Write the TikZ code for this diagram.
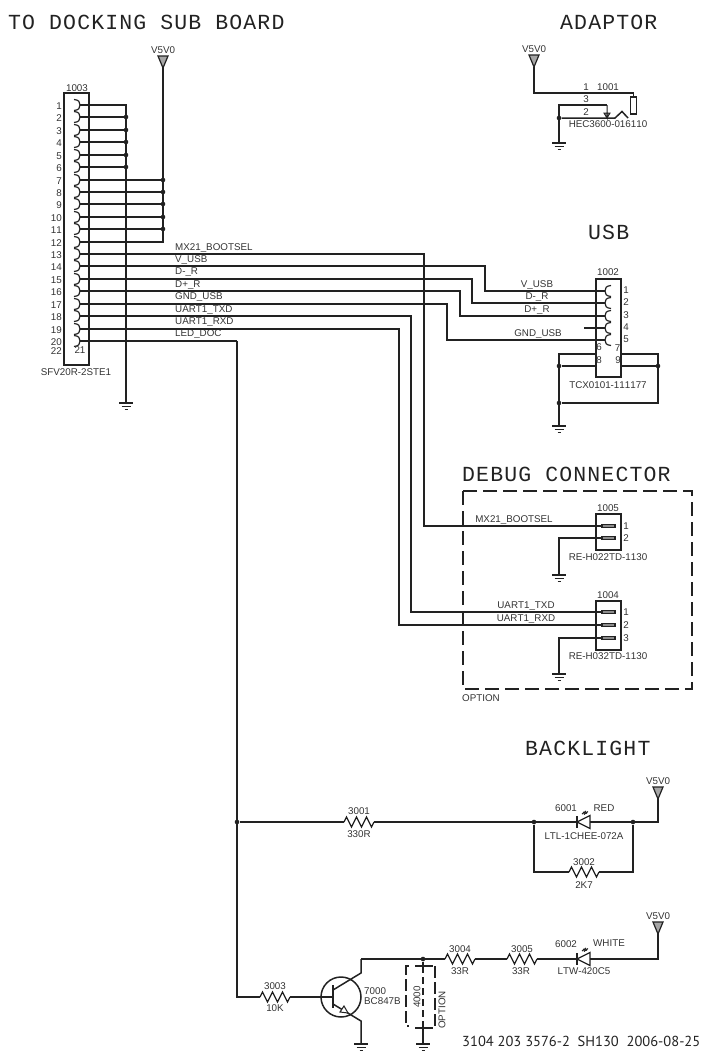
\documentclass[tikz,border=0pt]{standalone}
\usepackage{fontspec}
\setmainfont[Kerning=Off]{Liberation Sans}
\newfontfamily\titlefont[LetterSpace=5.3]{Liberation Mono}
\newfontfamily\footfont{PT Sans}
\usetikzlibrary{arrows.meta}
\definecolor{ink}{HTML}{222222}
\definecolor{txt}{HTML}{333333}
\tikzset{
  wire/.style={draw=ink, line width=1.5pt},
  thinwire/.style={draw=ink, line width=1.2pt},
  lbl/.style={text=txt, inner sep=0pt, font=\fontsize{9.8}{10}\selectfont},
  heading/.style={text=ink, inner sep=0pt, anchor=west, font=\titlefont\fontsize{21.5}{22}\selectfont},
  dot/.style={circle, fill=ink, inner sep=0pt, minimum size=4.6pt},
  gnd/.pic={
    \draw[ink, line width=1.4pt] (-7,0) -- (7,0);
    \draw[ink, line width=1.2pt] (-4.5,3.4) -- (4.5,3.4);
    \draw[ink, line width=1.2pt] (-1.5,6.8) -- (1.5,6.8);
  },
  vsup/.pic={
    \draw[ink, fill=black!35, line width=1.2pt] (-5,-12) -- (5,-12) -- (0,0) -- cycle;
    \node[lbl] at (0,-18) {V5V0};
  },
  res/.pic={
    \draw[ink, line width=1.3pt] (0,0) -- (2.5,-5) -- (7.5,5) -- (12.5,-5) -- (17.5,5) -- (22.5,-5) -- (27.5,5) -- (30,0);
  },
  led/.pic={
    \draw[ink, line width=1.5pt] (0,-6) -- (0,6);
    \draw[ink, line width=1.3pt] (0,0) -- (13,-6.5) -- (13,6.5) -- cycle;
    \draw[ink, line width=1pt] (5,-8) -- (9,-11) (7,-7.5) -- (11,-10.5) (6,-10) -- (8,-9) (8,-9.5) -- (10,-8.5);
  },
  hook/.pic={
    \draw[ink, line width=1.2pt] (-6,-5.5) .. controls (-1,-5) and (0,-3) .. (0,0) .. controls (0,3) and (-1,5) .. (-6,5.5);
  },
  bar/.pic={
    \draw[ink, fill=black!45, line width=1.3pt] (0,-1.6) rectangle (13,1.6);
  }
}
\begin{document}
\begin{tikzpicture}[x=1pt, y=-1pt]
  \useasboundingbox (0,0) rectangle (704,1055);
  % titles
  \node[heading] (tdock) at (8,22) {TO DOCKING SUB BOARD};
  \node[heading] (tadapt) at (560,22) {ADAPTOR};
  \node[heading] (tusb) at (588,232) {USB};
  \node[heading] (tdebug) at (462,474) {DEBUG CONNECTOR};
  \node[heading] (tback) at (525,748) {BACKLIGHT};

  % connector 1003
  \draw[wire] (64,93) rectangle (89,365);
  \node[lbl] (n1003) at (77,88) {1003};
  \node[lbl] (t1003) at (76,372) {SFV20R-2STE1};
  \foreach \n in {1,...,20} {
    \pgfmathsetmacro\ypos{round(105+12.42*(\n-1))}
    \coordinate (a\n) at (80,\ypos);
    \pic at (a\n) {hook};
    \node[lbl, anchor=east] (an\n) at (62,\ypos+1.5) {\n};
  }
  \node[lbl, anchor=east] (an22) at (62,351) {22};
  \node[lbl] (an21) at (80,350) {21};

  % ground bus
  \coordinate (gbus) at (126,105);
  \coordinate (gbot) at (126,403);
  \draw[thinwire] (a1) -- (gbus) -- (gbot);
  \pic at (gbot) {gnd};
  \foreach \n in {2,...,6} {
    \node[dot] (g\n) at (a\n -| gbus) {};
    \draw[thinwire] (a\n) -- (g\n);
  }

  % V5V0 bus
  \coordinate (vtop) at (163,68);
  \pic at (vtop) {vsup};
  \coordinate (vcor) at (a12 -| vtop);
  \draw[wire] (vtop) -- (vcor) -- (a12);
  \foreach \n in {7,...,11} {
    \node[dot] (v\n) at (a\n -| vtop) {};
    \draw[wire] (a\n) -- (v\n);
  }

  % net labels at 1003
  \foreach \n/\t/\ypos in {13/MX21\_BOOTSEL/248, 14/V\_USB/260, 15/D-\_R/272.5, 16/D+\_R/285,
      17/GND\_USB/297, 18/UART1\_TXD/310, 19/UART1\_RXD/322, 20/LED\_DOC/334}
    \node[lbl, anchor=west] (net\n) at (175,\ypos) {\t};

  % adaptor 1001
  \coordinate (adv) at (534,67);
  \pic at (adv) {vsup};
  \node[draw=ink, line width=1.3pt, minimum width=5.5pt, minimum height=17pt, inner sep=0pt] (jack) at (633.5,105.5) {};
  \coordinate (adc) at (jack.north |- 0,93);
  \draw[wire] (adv) |- (adc) -- (jack.north);
  \node[lbl] (ad1) at (586,87) {1};
  \node[lbl] (n1001) at (608,87) {1001};
  \node[lbl] (ad3) at (586,99.5) {3};
  \node[lbl] (ad2) at (586,112) {2};
  \node[lbl] (t1001) at (608,124.5) {HEC3600-016110};
  \node[dot] (adj) at (559,118) {};
  \coordinate (adt) at (559,105);
  \coordinate (adg) at (559,143);
  \coordinate (ada) at (607,105);
  \coordinate (adb) at (607,118);
  \draw[wire] (adg) -- (adt) -- (ada);
  \draw[ink, fill=black!40, line width=1pt] (ada) -- (ada |- adb) -- ++(-3,-5) -- ++(6,0) -- ++(-3,5);
  \draw[wire] (adj) -- (615,118) -- (622,111.5) -- (628,118);
  \pic at (adg) {gnd};

  % usb 1002
  \draw[wire] (596,279) rectangle (621,377);
  \node[lbl] (n1002) at (608,272) {1002};
  \node[lbl] (t1002) at (608,385) {TCX0101-111177};
  \foreach \n/\ypos in {1/291, 2/303, 3/316, 4/328, 5/340} {
    \coordinate (u\n) at (605,\ypos);
    \pic[xscale=-1] at (u\n) {hook};
    \node[lbl] (un\n) at (626,\ypos-1) {\n};
  }
  \coordinate (ustub) at (584,328);
  \draw[thinwire] (ustub) -- (u4);
  \node[lbl] (un6) at (599,347) {6};
  \node[lbl] (un7) at (617.5,348) {7};
  \node[lbl] (un8) at (599,360) {8};
  \node[lbl] (un9) at (618,360) {9};
  \foreach \x/\ypos/\t/\nm in {537/285/V\_USB/a, 537/297.5/D-\_R/b, 537/310/D+\_R/c, 538/334/GND\_USB/d}
    \node[lbl] (ul\nm) at (\x,\ypos) {\t};
  \coordinate (sl) at (559,354);
  \coordinate (sr) at (658,354);
  \node[dot] (sl8) at (559,366) {};
  \node[dot] (sr9) at (658,366) {};
  \node[dot] (sb) at (559,403) {};
  \coordinate (sbr) at (658,403);
  \coordinate (sg) at (559,426);
  \draw[wire] (596,354) -- (sl) -- (sg);
  \draw[wire] (621,354) -- (sr) -- (sbr) -- (sb);
  \draw[wire] (sl8) -- (596,366);
  \draw[wire] (sr9) -- (621,366);
  \pic at (sg) {gnd};

  % debug box
  \draw[ink, line width=1.6pt, dash pattern=on 14pt off 6pt] (463,491) rectangle (692,689);
  \node[lbl, anchor=west] (topt) at (462,698) {OPTION};

  % debug 1005
  \draw[wire] (596,514) rectangle (621,550);
  \node[lbl] (n1005) at (608,508) {1005};
  \node[lbl] (t1005) at (608,557) {RE-H022TD-1130};
  \foreach \n/\ypos in {1/526, 2/538} {
    \coordinate (d\n) at (602,\ypos);
    \pic at (d\n) {bar};
    \node[lbl] (dn\n) at (626,\ypos) {\n};
  }
  \node[lbl] (dl1) at (514,520) {MX21\_BOOTSEL};
  \coordinate (dg) at (559,575);
  \draw[thinwire] (d2) -| (dg);
  \pic at (dg) {gnd};

  % debug 1004
  \draw[wire] (596,601) rectangle (621,650);
  \node[lbl] (n1004) at (608,595) {1004};
  \node[lbl] (t1004) at (608,656) {RE-H032TD-1130};
  \foreach \n/\ypos in {1/612, 2/625, 3/638} {
    \coordinate (e\n) at (602,\ypos);
    \pic at (e\n) {bar};
    \node[lbl] (en\n) at (626,\ypos) {\n};
  }
  \node[lbl] (el1) at (526,606.5) {UART1\_TXD};
  \node[lbl] (el2) at (526,619) {UART1\_RXD};
  \coordinate (eg) at (559,674);
  \draw[thinwire] (e3) -| (eg);
  \pic at (eg) {gnd};

  % long nets from 1003
  \foreach \from/\x/\to in {a13/424/d1, a14/485/u1, a15/472/u2, a16/460/u3, a17/447/u5, a18/411/e1, a19/399/e2} {
    \coordinate (turn\from) at (\x,0);
    \draw[wire] (\from) -| (turn\from |- \to) -- (\to);
  }

  % backlight 6001
  \coordinate (bv) at (658,799);
  \pic at (bv) {vsup};
  \coordinate (bc) at (658,822);
  \coordinate (ledtop) at (237,341);
  \draw[wire] (a20) -- (ledtop);
  \node[dot] (bj) at (237,822) {};
  \node[dot] (bl) at (534,822) {};
  \node[dot] (br) at (633,822) {};
  \coordinate (r1l) at (344,822);
  \coordinate (r1r) at (374,822);
  \pic at (r1l) {res};
  \node[lbl] (n3001) at (359,811) {3001};
  \node[lbl] (v3001) at (359,834) {330R};
  \coordinate (d1a) at (577,822);
  \coordinate (d1k) at (590,822);
  \pic at (d1a) {led};
  \node[lbl] (n6001) at (566,808) {6001};
  \node[lbl] (c6001) at (604,808) {RED};
  \node[lbl] (t6001) at (584,836) {LTL-1CHEE-072A};
  \draw[wire] (bj) -- (r1l) (r1r) -- (d1a) (d1k) -- (bc) -- (bv);
  \coordinate (r2l) at (569,872);
  \coordinate (r2r) at (599,872);
  \pic at (r2l) {res};
  \node[lbl] (n3002) at (584,862) {3002};
  \node[lbl] (v3002) at (584,885) {2K7};
  \draw[wire] (bl) |- (r2l) (r2r) -| (br);

  % backlight 6002
  \coordinate (wv) at (658,934);
  \pic at (wv) {vsup};
  \coordinate (wc) at (658,959);
  \coordinate (d2a) at (577,959);
  \coordinate (d2k) at (590,959);
  \pic at (d2a) {led};
  \node[lbl] (n6002) at (566,944) {6002};
  \node[lbl] (c6002) at (609,943.5) {WHITE};
  \node[lbl] (t6002) at (584,971.5) {LTW-420C5};
  \coordinate (r4l) at (445,959);
  \coordinate (r4r) at (475,959);
  \pic at (r4l) {res};
  \node[lbl] (n3004) at (460,949) {3004};
  \node[lbl] (v3004) at (460,971) {33R};
  \coordinate (r5l) at (507,959);
  \coordinate (r5r) at (537,959);
  \pic at (r5l) {res};
  \node[lbl] (n3005) at (522,949) {3005};
  \node[lbl] (v3005) at (521,971) {33R};
  \draw[wire] (r4r) -- (r5l) (r5r) -- (d2a) (d2k) -- (wc) -- (wv);

  % transistor 7000
  \node[draw=ink, circle, line width=1.5pt, minimum size=40pt, inner sep=0pt] (q) at (341,997) {};
  \coordinate (qb) at (333,997);
  \coordinate (qc) at (361,959);
  \coordinate (qe) at (361,1021);
  \coordinate (qg) at (361,1044);
  \draw[ink, line width=1.8pt] (333,985) -- (333,1008);
  \draw[wire] (333,990) -- (361,973) -- (qc);
  \draw[wire] (333,1004) -- (qe) -- (qg);
  \draw[ink, fill=white, line width=1pt] (348,1013) -- (340,1012) -- (344,1006) -- cycle;
  \node[lbl, anchor=west] (n7000) at (364,991) {7000};
  \node[lbl, anchor=west] (t7000) at (364,1001.5) {BC847B};
  \pic at (qg) {gnd};

  % resistor 3003
  \coordinate (r3l) at (260,997);
  \coordinate (r3r) at (290,997);
  \pic at (r3l) {res};
  \node[lbl] (n3003) at (275,986) {3003};
  \node[lbl] (v3003) at (275,1008) {10K};
  \draw[wire] (ledtop) |- (r3l);
  \draw[wire] (r3r) -- (qb);

  % option cap 4000
  \node[dot] (cj) at (423,959) {};
  \coordinate (ct) at (423,966);
  \coordinate (cb) at (423,1028);
  \coordinate (cg) at (423,1044);
  \draw[wire] (qc) -- (r4l);
  \draw[wire] (cj) -- (ct);
  \draw[wire] (cb) -- (cg);
  \draw[thinwire] (415,966) -- (433,966) (415,1028) -- (433,1028);
  \draw[ink, line width=1.3pt, dash pattern=on 7pt off 4pt] (ct) -- (cb);
  \draw[ink, line width=1.3pt, dash pattern=on 12pt off 4pt] (409,966) -- (406,966) -- (406,1026) -- (409,1026);
  \draw[ink, line width=1.3pt, dash pattern=on 12pt off 4pt] (435,966) -- (435,1026);
  \node[lbl, rotate=90] (n4000) at (417,997) {4000};
  \node[lbl, rotate=90] (t4000) at (442,1010) {OPTION};
  \pic at (cg) {gnd};

  % sheet number
  \node[text=ink, inner sep=0pt, anchor=west, font=\footfont\fontsize{14.5}{15}\selectfont] (sheet) at (462,1041) {3104 203 3576-2\ \ SH130\ \ 2006-08-25};
\end{tikzpicture}
\end{document}
